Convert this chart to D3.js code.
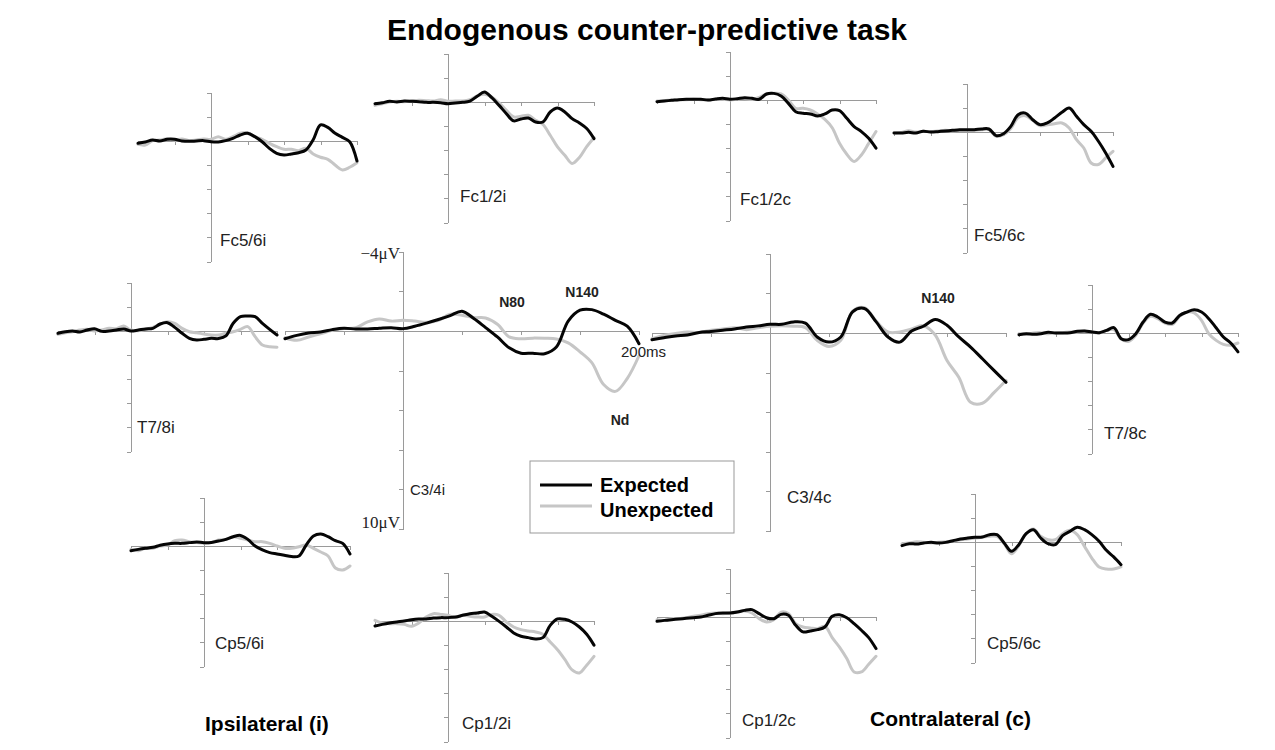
<!DOCTYPE html>
<html lang="en">
	<head>
		<meta charset="utf-8">
		<title>Endogenous counter-predictive task</title>
		<script src="https://d3js.org/d3.v7.min.js"></script>
		<style type="text/css">
			body { margin: 0; background: #fff; }
			text { font-family: "Liberation Sans", Arial, sans-serif; fill: #222; }
			.axis path, .axis line { stroke: #9a9a9a; stroke-width: 1; shape-rendering: crispEdges; }
		</style>
	</head>
	<body>
		<script type="text/javascript">
			//Sample times (ms) shared by every channel
			var times = [-100,-90,-80,-70,-60,-50,-40,-30,-20,-10,0,10,20,30,40,50,60,70,80,90,100,110,120,130,140,150,160,170,180,190,200];

			//Amplitudes in microvolts (negative up), Expected / Unexpected
			var fc56iExp = [0.19,0.08,-0.08,0,-0.14,-0.14,0,0.03,0,-0.03,0.06,0.08,-0.03,-0.22,-0.5,-0.64,-0.36,0.06,0.61,1.02,1.16,1.08,0.97,0.75,-0.1,-1.33,-1.13,-0.64,-0.3,0.06,1.66];
			var fc56iUnexp = [0.28,0.33,-0.03,-0.08,-0.19,-0.08,-0.17,-0.03,-0.08,-0.17,-0.14,-0.36,-0.14,-0.36,-0.64,-0.69,-0.36,-0.14,0.19,0.47,0.69,0.69,0.8,0.61,1.08,1.35,1.52,1.99,2.4,2.18,1.8];

			var fc12iExp = [0.14,0.06,-0.06,0,-0.08,-0.06,-0.03,0.03,0.03,0.06,0.14,0.08,0.03,-0.08,-0.47,-0.83,-0.36,0.28,0.97,1.57,1.41,1.33,1.66,1.66,0.83,0.5,0.83,1.38,1.74,2.2,3.04];
			var fc12iUnexp = [0.28,0.14,0,-0.06,-0.03,-0.08,-0.14,-0.11,-0.08,-0.19,-0.06,-0.08,-0.08,-0.19,-0.5,-0.64,-0.41,0.08,0.69,1.24,1.19,1.1,1.52,1.85,2.76,3.73,4.42,5.1,4.6,3.7,2.96];

			var fc12cExp = [0.14,0.08,0.03,-0.03,-0.06,-0.06,-0.06,0,-0.08,-0.14,-0.06,-0.11,-0.19,-0.14,-0.06,-0.5,-0.55,-0.33,0.28,0.97,1.1,1.16,1.33,1.16,0.83,0.88,1.52,2.2,2.62,3.18,4.0];
			var fc12cUnexp = [0.08,0.06,0,-0.03,-0.03,-0.06,-0.03,0,-0.06,-0.08,0,-0.06,-0.11,-0.06,-0.22,-0.5,-0.55,-0.5,0,0.69,0.69,0.83,1.16,1.6,2.3,3.59,4.5,5.1,4.56,3.6,2.62];

			var fc56cExp = [0.08,0.08,0.03,0.08,-0.06,0,-0.03,-0.08,-0.14,-0.19,-0.19,-0.19,-0.25,-0.25,0.3,0.14,-0.47,-1.44,-1.57,-1.02,-0.61,-0.75,-1.16,-1.63,-1.99,-1.3,-0.61,-0.06,0.77,1.74,2.85];
			var fc56cUnexp = [0.08,0.03,-0.11,0,-0.06,-0.03,-0.08,-0.14,-0.11,-0.14,-0.14,-0.14,-0.19,-0.19,0.36,0.22,-0.3,-1.2,-1.35,-0.97,-0.52,-0.61,-0.69,-0.75,-0.33,0.64,1.33,2.57,2.7,2.15,1.6];

			var t78iExp = [0.19,0.06,0,0.08,-0.08,-0.19,0.03,0,-0.08,-0.17,0,-0.08,-0.17,-0.22,-0.58,-0.69,-0.3,0.19,0.61,0.75,0.69,0.61,0.63,0.41,-0.64,-1.19,-1.24,-1.19,-0.64,-0.14,0.33];
			var t78iUnexp = [0.28,0.14,0.06,-0.08,-0.14,0,-0.08,-0.22,-0.19,-0.41,-0.08,-0.03,-0.14,-0.3,-0.58,-0.77,-0.63,-0.22,0.06,0.14,0.25,0.33,0.33,0.19,0.06,-0.14,-0.36,0.47,1.16,1.3,1.35];

			var c34iExp = [0.39,0.22,0.1,0.05,-0.07,-0.14,-0.1,-0.1,-0.14,-0.17,-0.12,-0.24,-0.4,-0.58,-0.78,-1.0,-0.63,-0.17,0.3,0.85,1.12,1.12,1.15,0.81,-0.5,-1.05,-1.08,-0.85,-0.54,-0.24,0.64];
			var c34iUnexp = [0.34,0.47,0.3,0.14,-0.03,-0.12,-0.17,-0.46,-0.61,-0.5,-0.54,-0.5,-0.44,-0.54,-0.85,-0.8,-0.68,-0.66,-0.34,0.3,0.39,0.36,0.37,0.4,0.6,1.05,1.6,2.7,3.05,2.4,1.25];

			var c34cExp = [0.34,0.24,0.15,0.1,-0.03,-0.08,-0.14,-0.2,-0.3,-0.36,-0.44,-0.44,-0.56,-0.5,0.2,0.46,0.2,-1.07,-1.24,-0.56,0.2,0.46,-0.1,-0.34,-0.68,-0.39,0.2,0.71,1.3,1.9,2.49];
			var c34cUnexp = [0.29,0.12,0.03,-0.05,-0.03,-0.14,-0.2,-0.27,-0.17,-0.27,-0.34,-0.36,-0.34,-0.27,0.37,0.68,0.37,-1.1,-1.28,-0.6,-0.05,-0.05,-0.2,-0.37,0.1,1.39,2.24,3.5,3.55,3.0,2.4];

			var t78cExp = [0.14,0.06,0.11,0.06,-0.06,0,0,-0.03,-0.14,-0.17,-0.08,-0.03,-0.22,-0.44,0.47,0.55,0.06,-0.91,-1.55,-1.33,-0.91,-0.83,-1.46,-1.74,-1.93,-1.74,-1.19,-0.44,0.33,0.83,1.57];
			var t78cUnexp = [0.06,0.11,0,-0.03,0.06,0,-0.03,-0.08,-0.08,-0.17,-0.08,0,-0.22,-0.28,0.5,0.7,0.19,-0.83,-1.38,-1.19,-0.83,-0.72,-1.38,-1.74,-1.66,-1.05,0.06,0.61,0.94,1.02,0.83];

			var cp56iExp = [0.39,0.28,0.19,0.11,-0.06,-0.17,-0.22,-0.22,-0.28,-0.33,-0.28,-0.3,-0.41,-0.55,-0.77,-0.88,-0.55,0,0.33,0.55,0.66,0.77,0.88,0.83,-0.08,-0.83,-0.99,-0.77,-0.44,-0.22,0.66];
			var cp56iUnexp = [0.28,0.39,0.19,0.19,0,-0.08,-0.44,-0.5,-0.36,-0.28,-0.22,-0.28,-0.5,-0.55,-0.77,-0.64,-0.5,-0.36,-0.36,-0.22,0,0.19,0.19,0.06,-0.08,0.19,0.5,0.83,1.82,1.99,1.66];

			var cp12iExp = [0.41,0.28,0.17,0.08,0,-0.11,-0.17,-0.17,-0.25,-0.28,-0.28,-0.33,-0.47,-0.61,-0.66,-0.75,-0.39,0.03,0.5,0.99,1.27,1.38,1.49,1.38,0.36,-0.17,-0.14,0.08,0.5,1.1,2.0];
			var cp12iUnexp = [-0.06,0.17,0.22,0.22,0.28,0.44,0.17,-0.33,-0.61,-0.55,-0.47,-0.28,-0.47,-0.39,-0.33,-0.33,-0.55,-0.47,0.08,0.5,0.72,0.83,0.91,1.1,1.74,2.38,3.18,4.06,4.31,3.67,2.93];

			var cp12cExp = [0.36,0.28,0.22,0.17,0.11,0.06,0,-0.14,-0.28,-0.33,-0.33,-0.41,-0.55,-0.61,-0.28,0.06,0.14,-0.22,-0.14,0.69,1.24,1.16,1.05,0.83,-0.06,-0.19,0.06,0.55,1.1,1.71,2.62];
			var cp12cUnexp = [0.22,0.28,0.14,0.14,0.06,-0.06,-0.14,-0.28,-0.33,-0.28,-0.33,-0.41,-0.5,-0.33,0.14,0.41,0.22,-0.41,-0.28,0.55,0.83,0.91,0.97,0.77,1.71,2.5,3.45,4.56,4.56,3.92,3.26];

			var cp56cExp = [0.3,0.14,0.17,0.08,0.03,0.08,0.03,-0.11,-0.25,-0.33,-0.39,-0.41,-0.61,-0.61,0.08,0.77,0.22,-0.69,-1.02,-0.33,0.14,0.22,-0.52,-0.88,-1.22,-1.02,-0.61,-0.06,0.69,1.24,1.88];
			var cp56cUnexp = [0.14,0.08,-0.03,0.03,0.08,0.03,-0.03,-0.08,-0.19,-0.25,-0.33,-0.39,-0.47,-0.47,0.14,0.97,0.3,-0.69,-1.08,-0.47,-0.19,-0.19,-0.69,-0.97,-0.61,0.36,1.33,2.07,2.24,2.24,2.07];

			//Axis ranges and labels
			var timeDomain = [-100, 200];
			var voltDomain = [-4, 10];
			var voltTicks = [-4, -2, 0, 2, 4, 6, 8, 10];
			var timeTicks = [-100, -50, 50, 100, 150, 200];
			var seriesNames = ["Expected", "Unexpected"];

			//Where each channel sits on the page (zero point of its axes)
			var layout = [
				{ name: "Fc5/6i", exp: fc56iExp, unexp: fc56iUnexp, x0: 211, y0: 141, big: false, lx: 220, ly: 246 },
				{ name: "Fc1/2i", exp: fc12iExp, unexp: fc12iUnexp, x0: 448, y0: 102, big: false, lx: 460, ly: 202 },
				{ name: "Fc1/2c", exp: fc12cExp, unexp: fc12cUnexp, x0: 730, y0: 100, big: false, lx: 740, ly: 205 },
				{ name: "Fc5/6c", exp: fc56cExp, unexp: fc56cUnexp, x0: 967, y0: 132, big: false, lx: 974, ly: 241 },
				{ name: "T7/8i", exp: t78iExp, unexp: t78iUnexp, x0: 131, y0: 331, big: false, lx: 137, ly: 433 },
				{ name: "C3/4i", exp: c34iExp, unexp: c34iUnexp, x0: 403, y0: 331, big: true, lx: 410, ly: 495 },
				{ name: "C3/4c", exp: c34cExp, unexp: c34cUnexp, x0: 770, y0: 333, big: true, lx: 787, ly: 503 },
				{ name: "T7/8c", exp: t78cExp, unexp: t78cUnexp, x0: 1092, y0: 333, big: false, lx: 1104, ly: 439 },
				{ name: "Cp5/6i", exp: cp56iExp, unexp: cp56iUnexp, x0: 204, y0: 546, big: false, lx: 215, ly: 649 },
				{ name: "Cp1/2i", exp: cp12iExp, unexp: cp12iUnexp, x0: 448, y0: 621, big: false, lx: 462, ly: 729 },
				{ name: "Cp1/2c", exp: cp12cExp, unexp: cp12cUnexp, x0: 730, y0: 617, big: false, lx: 742, ly: 726 },
				{ name: "Cp5/6c", exp: cp56cExp, unexp: cp56cUnexp, x0: 975, y0: 542, big: false, lx: 987, ly: 649 }
			];

			var w = 1275;
			var h = 750;

			var svg = d3.select("body")
				.append("svg")
				.attr("width", w)
				.attr("height", h);

			//Title
			svg.append("text")
				.attr("x", 647)
				.attr("y", 40)
				.attr("text-anchor", "middle")
				.style("font-size", "30px")
				.style("font-weight", "bold")
				.style("fill", "#000")
				.text("Endogenous counter-predictive task");

			layout.forEach(function(p) {
				//px per ms and px per microvolt
				var kx = p.big ? 1.18 : 0.73;
				var ky = p.big ? 19.8 : 12.05;

				var x = d3.scaleLinear()
					.domain(timeDomain)
					.range([p.x0 - 100 * kx, p.x0 + 200 * kx]);
				var y = d3.scaleLinear()
					.domain(voltDomain)
					.range([p.y0 - 4 * ky, p.y0 + 10 * ky]);

				var g = svg.append("g");

				g.append("g")
					.attr("class", "axis")
					.attr("transform", "translate(0," + y(0) + ")")
					.call(d3.axisBottom(x).tickValues(timeTicks).tickSize(4).tickSizeOuter(0).tickFormat(""));

				g.append("g")
					.attr("class", "axis")
					.attr("transform", "translate(" + x(0) + ",0)")
					.call(d3.axisLeft(y).tickValues(voltTicks).tickSize(4).tickSizeOuter(0).tickFormat(""));

				var line = d3.line()
					.x(function(d, i) { return x(times[i]); })
					.y(function(d) { return y(d); })
					.curve(d3.curveCatmullRom.alpha(0.5));

				g.append("path")
					.datum(p.unexp)
					.attr("d", line)
					.attr("fill", "none")
					.attr("stroke", "#c6c6c6")
					.attr("stroke-width", 3)
					.attr("stroke-linejoin", "round")
					.attr("stroke-linecap", "round");

				g.append("path")
					.datum(p.exp)
					.attr("d", line)
					.attr("fill", "none")
					.attr("stroke", "#050505")
					.attr("stroke-width", 3)
					.attr("stroke-linejoin", "round")
					.attr("stroke-linecap", "round");

				g.append("text")
					.attr("x", p.lx)
					.attr("y", p.ly)
					.style("font-size", p.name == "C3/4i" ? "15px" : "17px")
					.text(p.name);

				if (p.big && p.name == "C3/4i") {
					g.append("text")
						.attr("x", x(0) - 3)
						.attr("y", y(-4) + 7)
						.attr("text-anchor", "end")
						.style("font-family", "'Liberation Serif', serif")
						.style("font-size", "17px")
						.text("\u22124\u03bcV");
					g.append("text")
						.attr("x", x(0) - 3)
						.attr("y", y(10) - 1)
						.attr("text-anchor", "end")
						.style("font-family", "'Liberation Serif', serif")
						.style("font-size", "17px")
						.text("10\u03bcV");
					g.append("text")
						.attr("x", x(200) - 18)
						.attr("y", y(0) + 26)
						.style("font-size", "15px")
						.text("200ms");
				}
			});

			//Component annotations
			var notes = [
				{ t: "N80", x: 512, y: 307 },
				{ t: "N140", x: 582, y: 297 },
				{ t: "Nd", x: 620, y: 425 },
				{ t: "N140", x: 938, y: 303 }
			];
			svg.selectAll(".note")
				.data(notes)
				.enter()
				.append("text")
				.attr("class", "note")
				.attr("x", function(d) { return d.x; })
				.attr("y", function(d) { return d.y; })
				.attr("text-anchor", "middle")
				.style("font-size", "14px")
				.style("font-weight", "bold")
				.text(function(d) { return d.t; });

			//Legend
			var legend = svg.append("g").attr("transform", "translate(530,461)");
			legend.append("rect")
				.attr("width", 204)
				.attr("height", 72)
				.attr("fill", "#fff")
				.attr("stroke", "#999");
			legend.selectAll("line")
				.data(seriesNames)
				.enter()
				.append("line")
				.attr("x1", 10)
				.attr("x2", 62)
				.attr("y1", function(d, i) { return 24 + i * 21; })
				.attr("y2", function(d, i) { return 24 + i * 21; })
				.attr("stroke", function(d, i) { return i == 0 ? "#050505" : "#c6c6c6"; })
				.attr("stroke-width", 3);
			legend.selectAll("text")
				.data(seriesNames)
				.enter()
				.append("text")
				.attr("x", 70)
				.attr("y", function(d, i) { return 31 + i * 25; })
				.style("font-size", "20px")
				.style("font-weight", "bold")
				.style("fill", "#000")
				.text(function(d) { return d; });

			//Side captions
			svg.append("text")
				.attr("x", 205)
				.attr("y", 731)
				.style("font-size", "21px")
				.style("font-weight", "bold")
				.style("fill", "#000")
				.text("Ipsilateral (i)");
			svg.append("text")
				.attr("x", 870)
				.attr("y", 726)
				.style("font-size", "21px")
				.style("font-weight", "bold")
				.style("fill", "#000")
				.text("Contralateral (c)");
		</script>
	</body>
</html>
